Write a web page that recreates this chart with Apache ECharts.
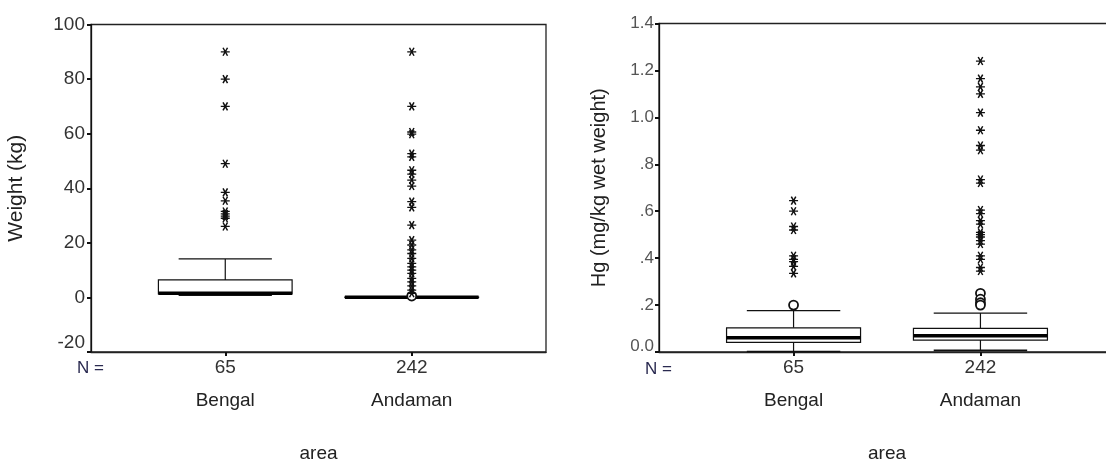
<!DOCTYPE html>
<html>
<head>
<meta charset="utf-8">
<script src="https://cdn.jsdelivr.net/npm/echarts@6/dist/echarts.min.js"></script>
<style>
html,body{margin:0;padding:0;background:#fff;}
#c{width:1106px;height:462px;}
</style>
</head>
<body>
<div id="c"></div>
<script>
// ---- data ----
const categories = ['Bengal', 'Andaman'];
const counts = [65, 242];
// box stats: [low whisker, Q1, median, Q3, high whisker]
const weightBox = [[0.8, 1.3, 1.5, 6.4, 14.1], [0.0, 0.0, 0.05, 0.15, 0.3]];
const weightCircles = [[], [0.5]];
const weightExtremes = [
  [90, 80, 70, 49, 38.5, 35.4, 31.5, 30.6, 29.8, 29, 26],
  [90, 70, 60.6, 59.8, 52.7, 51.5, 46.6, 45.2, 43, 40.8, 35.1, 33, 26.5,
   21, 19.2, 17.4, 16.1, 14.3, 12.5, 11.2, 10, 8.8, 7, 5.7, 4.2, 2.7, 1.5]
];
const hgBox = [[0.002, 0.041, 0.061, 0.103, 0.176], [0.007, 0.051, 0.069, 0.101, 0.166]];
const hgCircles = [[0.2], [0.25, 0.225, 0.21, 0.2]];
const hgExtremes = [
  [0.645, 0.6, 0.535, 0.52, 0.41, 0.395, 0.385, 0.365, 0.335],
  [1.24, 1.165, 1.13, 1.1, 1.02, 0.945, 0.88, 0.86, 0.735, 0.72, 0.605, 0.59,
   0.56, 0.545, 0.51, 0.5, 0.49, 0.475, 0.46, 0.41, 0.395, 0.36, 0.345]
];
const weightTicks = [-20, 0, 20, 40, 60, 80, 100];
const hgTickLabels = ['0.0', '.2', '.4', '.6', '.8', '1.0', '1.2', '1.4'];

// ---- helpers ----
const FONT = 'Liberation Sans, Arial, sans-serif';
const BOX_W = 0.717, CAP_W = 0.5;
const ASTER = 'path://M0,5L10,5M2.5,0.7L7.5,9.3M2.5,9.3L7.5,0.7';

function boxData(stats) { return stats.map((s, i) => [i + 1].concat(s)); }
function ptData(lists) {
  const out = [];
  lists.forEach((l, i) => l.forEach(v => out.push([i + 1, v])));
  return out;
}
function renderBox(params, api) {
  const x = api.value(0);
  const low = api.coord([x, api.value(1)]);
  const q1 = api.coord([x, api.value(2)]);
  const med = api.coord([x, api.value(3)]);
  const q3 = api.coord([x, api.value(4)]);
  const high = api.coord([x, api.value(5)]);
  const bw = api.size([BOX_W, 0])[0];
  const cw = api.size([CAP_W, 0])[0];
  const cx = q1[0];
  const ls = {stroke: '#111', lineWidth: 1.2};
  return {
    type: 'group',
    children: [
      {type: 'line', shape: {x1: cx, y1: q3[1], x2: cx, y2: high[1]}, style: ls},
      {type: 'line', shape: {x1: cx - cw / 2, y1: high[1], x2: cx + cw / 2, y2: high[1]}, style: ls},
      {type: 'line', shape: {x1: cx, y1: q1[1], x2: cx, y2: low[1]}, style: ls},
      {type: 'line', shape: {x1: cx - cw / 2, y1: low[1], x2: cx + cw / 2, y2: low[1]}, style: {stroke: '#111', lineWidth: 1.6}},
      {type: 'rect', shape: {x: cx - bw / 2, y: q3[1], width: bw, height: Math.max(q1[1] - q3[1], 0.5)},
       style: {fill: '#fff', stroke: '#111', lineWidth: 1.2}},
      {type: 'line', shape: {x1: cx - bw / 2, y1: med[1], x2: cx + bw / 2, y2: med[1]}, style: {stroke: '#000', lineWidth: 3.5}}
    ]
  };
}

function xAxisDef(gridIndex) {
  return {
    type: 'value', gridIndex: gridIndex, min: 0.28, max: 2.72,
    name: 'area', nameLocation: 'middle', nameGap: 92,
    nameTextStyle: {fontFamily: FONT, fontSize: 19, color: '#222'},
    axisLine: {show: true, onZero: false, lineStyle: {color: '#222', width: 1.3}},
    axisTick: {show: true, customValues: [1, 2], length: 4, lineStyle: {color: '#111', width: 2}},
    axisLabel: {
      show: true, customValues: [1, 2], margin: 4,
      formatter: v => '{n|' + counts[Math.round(v) - 1] + '}\n{c|' + categories[Math.round(v) - 1] + '}',
      rich: {
        n: {fontFamily: FONT, fontSize: 19, color: '#333', lineHeight: 24, align: 'center'},
        c: {fontFamily: FONT, fontSize: 19, color: '#222', lineHeight: 42, align: 'center'}
      }
    },
    splitLine: {show: false}
  };
}

const chart = echarts.init(document.getElementById('c'), null, {renderer: 'canvas'});
chart.setOption({
  backgroundColor: '#fff',
  animation: false,
  grid: [
    {left: 91, top: 24.5, width: 455, height: 327.5, outerBoundsMode: 'none', containLabel: false,
     show: true, borderColor: '#222', borderWidth: 1.3, backgroundColor: 'transparent'},
    {left: 659, top: 23.5, width: 456, height: 328.5, outerBoundsMode: 'none', containLabel: false,
     show: true, borderColor: '#222', borderWidth: 1.3, backgroundColor: 'transparent'}
  ],
  xAxis: [xAxisDef(0), xAxisDef(1)],
  yAxis: [
    {
      type: 'value', gridIndex: 0, min: weightTicks[0], max: weightTicks[weightTicks.length - 1], interval: 20,
      name: 'Weight (kg)', nameLocation: 'middle', nameGap: 64, nameRotate: 90,
      nameTextStyle: {fontFamily: FONT, fontSize: 21, color: '#222'},
      axisLine: {show: true, lineStyle: {color: '#111', width: 1.3}},
      axisTick: {show: true, length: 4, lineStyle: {color: '#111', width: 2}},
      axisLabel: {margin: 6, fontFamily: FONT, fontSize: 19, color: '#333',
        formatter: v => v === weightTicks[0] ? '{up|' + v + '}' : String(v),
        rich: {up: {fontFamily: FONT, fontSize: 19, color: '#333', padding: [0, 0, 18, 0]}}},
      splitLine: {show: false}
    },
    {
      type: 'value', gridIndex: 1, min: 0, max: 1.4, interval: 0.2,
      name: 'Hg (mg/kg wet weight)', nameLocation: 'middle', nameGap: 50, nameRotate: 90,
      nameTextStyle: {fontFamily: FONT, fontSize: 20, color: '#222'},
      axisLine: {show: true, lineStyle: {color: '#111', width: 1.3}},
      axisTick: {show: true, length: 4, lineStyle: {color: '#111', width: 2}},
      axisLabel: {margin: 5, fontFamily: FONT, fontSize: 17, color: '#555',
        formatter: v => {
          const i = Math.round(v / 0.2);
          return i === 0 ? '{up|' + hgTickLabels[i] + '}' : hgTickLabels[i];
        },
        rich: {up: {fontFamily: FONT, fontSize: 17, color: '#555', padding: [0, 0, 12, 0]}}},
      splitLine: {show: false}
    }
  ],
  graphic: [
    {type: 'text', left: 77, top: 360, style: {text: 'N =', font: '17px ' + FONT, fill: '#2a2a50'}},
    {type: 'text', left: 645, top: 361, style: {text: 'N =', font: '17px ' + FONT, fill: '#2a2a50'}}
  ],
  series: [
    {type: 'custom', xAxisIndex: 0, yAxisIndex: 0, renderItem: renderBox, data: boxData(weightBox), encode: {x: 0, y: [1, 2, 3, 4, 5]}, z: 2},
    {type: 'custom', xAxisIndex: 1, yAxisIndex: 1, renderItem: renderBox, data: boxData(hgBox), encode: {x: 0, y: [1, 2, 3, 4, 5]}, z: 2},
    {type: 'scatter', xAxisIndex: 0, yAxisIndex: 0, data: ptData(weightExtremes), symbol: ASTER, symbolSize: [9, 8],
     itemStyle: {color: 'transparent', borderColor: '#111', borderWidth: 1.4, opacity: 1}, z: 5},
    {type: 'scatter', xAxisIndex: 1, yAxisIndex: 1, data: ptData(hgExtremes), symbol: ASTER, symbolSize: [9, 8],
     itemStyle: {color: 'transparent', borderColor: '#111', borderWidth: 1.4, opacity: 1}, z: 5},
    {type: 'scatter', xAxisIndex: 0, yAxisIndex: 0, data: ptData(weightCircles), symbol: 'circle', symbolSize: 9,
     itemStyle: {color: '#fff', borderColor: '#111', borderWidth: 1.8, opacity: 1}, z: 4},
    {type: 'scatter', xAxisIndex: 1, yAxisIndex: 1, data: ptData(hgCircles), symbol: 'circle', symbolSize: 9,
     itemStyle: {color: '#fff', borderColor: '#111', borderWidth: 1.8, opacity: 1}, z: 4}
  ]
});
</script>
</body>
</html>
